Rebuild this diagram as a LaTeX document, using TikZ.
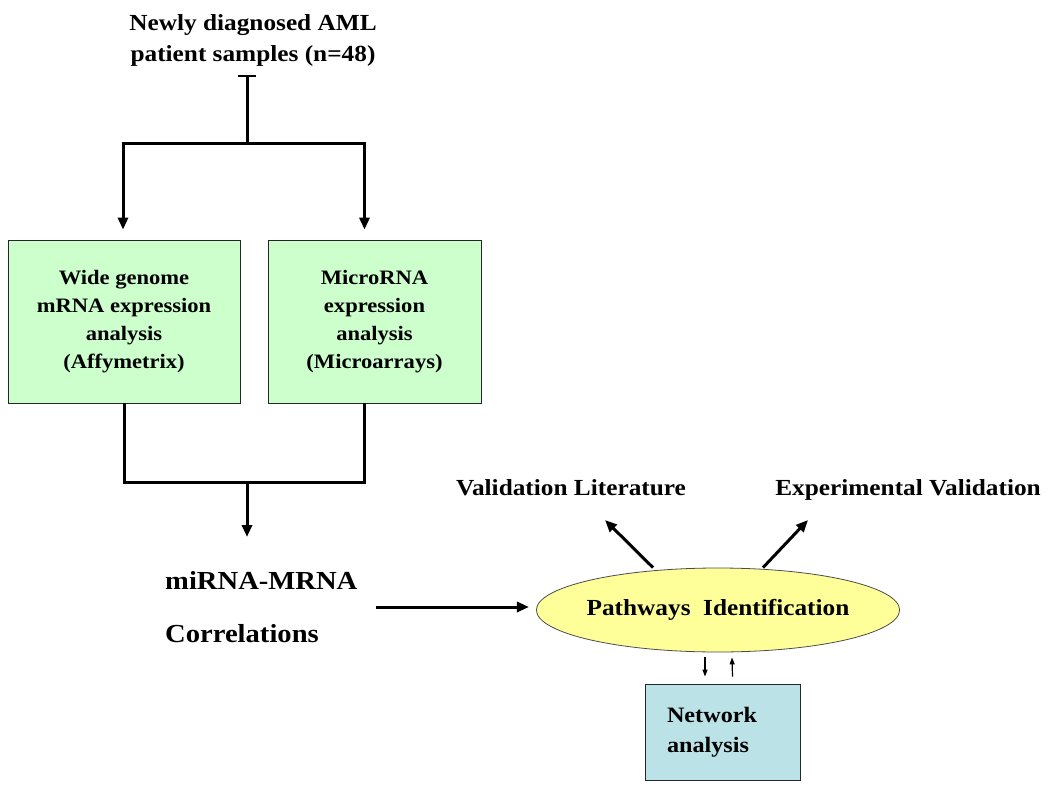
\documentclass[tikz,border=0pt]{standalone}
\usepackage{fontspec}
\setmainfont{Liberation Serif}[FakeStretch=1.1]
\usetikzlibrary{shapes.geometric,arrows.meta}
\definecolor{gboxc}{HTML}{CCFFCC}
\definecolor{yellc}{HTML}{FFFF99}
\definecolor{bluec}{HTML}{BBE2E6}
\begin{document}
\begin{tikzpicture}[x=1pt,y=-1pt,
  line/.style={line width=3pt},
  arr/.style={line,-{Triangle[length=12pt,width=10pt]}},
  sarr/.style={line width=1.2pt,-{Triangle[length=7pt,width=5pt]}},
  gbox/.style={draw=black!85,line width=0.8pt,fill=gboxc,inner sep=0pt,
    minimum height=163pt,align=center,font=\fontsize{20.5}{28}\selectfont\bfseries},
  lbl/.style={inner sep=0pt,font=\fontsize{23}{31}\selectfont\bfseries},
  ell/.style={ellipse,draw=black!70,line width=0.8pt,fill=yellc,inner xsep=-3pt,inner ysep=0pt,
    minimum width=363pt,minimum height=84pt,font=\fontsize{23}{30}\selectfont\bfseries},
  nbox/.style={draw=black!85,line width=0.8pt,fill=bluec,minimum height=96pt,
    text width=111pt,inner xsep=22pt,inner ysep=0pt,align=left,
    font=\fontsize{22}{30}\selectfont\bfseries}]
\useasboundingbox (0,0) rectangle (1050,792);

\node[lbl,align=center] (title) at (253,40) {Newly diagnosed AML\\patient samples (n=48)};
\node[gbox,minimum width=232pt] (wg) at (124,321.5) {Wide genome\\mRNA expression\\analysis\\(Affymetrix)};
\node[gbox,minimum width=213pt] (mi) at (374.5,321.5) {MicroRNA\\expression\\analysis\\(Microarrays)};
\node[inner sep=0pt,align=left,anchor=west,font=\fontsize{26}{53}\selectfont\bfseries] (corr) at (165,607) {miRNA-MRNA\\Correlations};
\node[ell] (path) at (718,610) {Pathways\ \ Identification};
\node[lbl,anchor=base] (vl) at (571,495) {Validation Literature};
\node[lbl,anchor=base] (ev) at (908,495) {Experimental Validation};
\node[nbox] (net) at (722.5,732) {Network\\analysis};

\coordinate (bar) at (247,75);
\coordinate (split) at (247,143);
\coordinate (merge) at (247,482);
\coordinate (corrtop) at (247,537);
\coordinate (vlend) at (605,520);
\coordinate (evend) at (808,520);

\draw[line,{Bar[width=18pt,line width=1.6pt]}-] (bar) -- (split);
\draw[arr,shorten >=10pt] (split) -| ([xshift=-1pt]wg.north);
\draw[arr,shorten >=10pt] (split) -| ([xshift=-10pt]mi.north);
\draw[line] (wg.south) |- (merge) -| ([xshift=-10pt]mi.south);
\draw[arr] (merge) -- (corrtop);
\draw[arr,shorten <=18pt,shorten >=7pt] (corr.east) -- (corr.east -| path.west);
\draw[arr] ([xshift=-65pt]path.north) -- (vlend);
\draw[arr] ([xshift=45pt]path.north) -- (evend);
\draw[sarr] ([xshift=-13pt,yshift=-5pt]path.south) -- ([xshift=-17.5pt,yshift=7pt]net.north);
\draw[sarr] ([xshift=10pt,yshift=7pt]net.north) -- ([xshift=14pt,yshift=-5pt]path.south);
\end{tikzpicture}
\end{document}
